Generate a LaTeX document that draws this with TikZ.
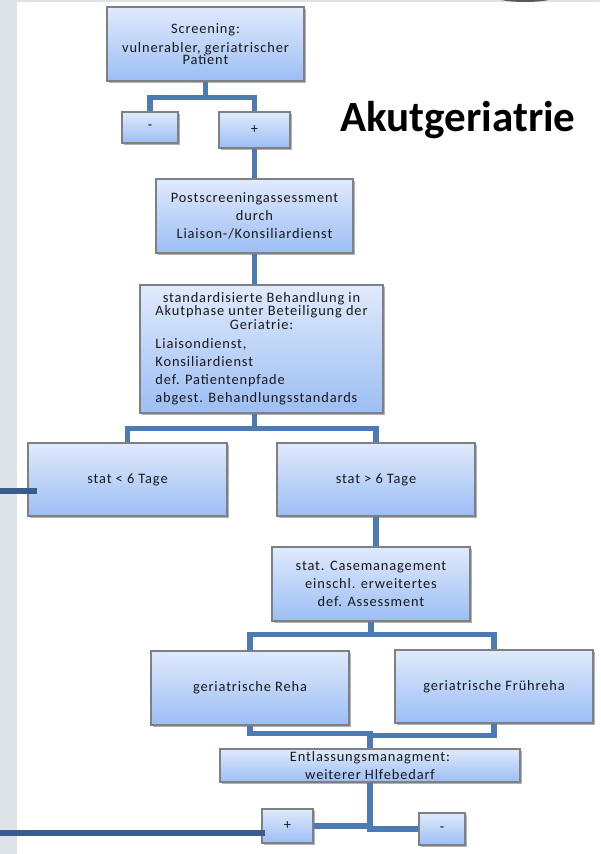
\documentclass[tikz,border=0pt]{standalone}
\usepackage{fontspec}
\setmainfont{Carlito}
\newfontfamily\boxfont[LetterSpace=6]{Carlito}
\usetikzlibrary{shadows}
\definecolor{linkblue}{RGB}{76,122,178}
\definecolor{exitblue}{RGB}{56,92,142}
\definecolor{boxtop}{RGB}{224,234,252}
\definecolor{boxbot}{RGB}{156,190,244}
\definecolor{boxline}{RGB}{125,128,132}
\definecolor{sidegray}{RGB}{222,227,232}
\tikzset{
  box/.style={draw=boxline, line width=0.8pt, top color=boxtop, bottom color=boxbot,
    drop shadow={shadow xshift=1.3pt, shadow yshift=-1.3pt, opacity=0.3, fill=black},
    align=center, text=black!90, inner sep=1pt,
    font=\boxfont\fontsize{8.2}{10.3}\selectfont},
  size/.style 2 args={minimum width=#1*0.02cm, minimum height=#2*0.02cm},
  link/.style={draw=linkblue, line width=2.9pt},
  exit/.style={draw=exitblue, line width=3.4pt},
}

\begin{document}
\begin{tikzpicture}[x=0.02cm, y=-0.02cm]
\useasboundingbox (0,0) rectangle (600,854);
\clip (0,0) rectangle (600,854);
% background
\fill[sidegray] (0,0) rectangle (17,854);
\fill[sidegray] (0,0) rectangle (600,2);
\fill[black!65] (525,-4) ellipse [x radius=32, y radius=6];

\node[font=\bfseries\fontsize{24.5}{28}\selectfont] (title) at (458,120) {Akutgeriatrie};

% boxes
\node[box, size={197}{74}] (scr) at (205.5,44) {Screening:\\[0.5pt] vulnerabler, geriatrischer\\[-3.5pt] Patient};
\node[box, size={56}{31}] (minus1) at (150,127.5) {-};
\node[box, size={71}{36}] (plus1) at (254.5,130) {+};
\node[box, size={197}{74}] (post) at (254.5,216) {Postscreeningassessment\\ durch\\ Liaison-/Konsiliardienst};
\node[box, size={243}{128}] (std) at (261.5,349) {%
  \begin{tabular}{@{}l@{}}
  \multicolumn{1}{@{}c@{}}{standardisierte Behandlung in}\\[-2.5pt]
  \multicolumn{1}{@{}c@{}}{Akutphase unter Beteiligung der}\\[-2.5pt]
  \multicolumn{1}{@{}c@{}}{Geriatrie:}\\[0.5pt]
  Liaisondienst,\\
  Konsiliardienst\\
  def. Patientenpfade\\
  abgest. Behandlungsstandards
  \end{tabular}};
\node[box, size={199}{73}] (lt6) at (127.5,479.5) {stat < 6 Tage};
\node[box, size={198}{73}] (gt6) at (376,479.5) {stat > 6 Tage};
\node[box, size={198}{74}] (case) at (371,584) {stat. Casemanagement\\ einschl. erweitertes\\ def. Assessment};
\node[box, size={198}{74}] (reha) at (250,688) {geriatrische Reha};
\node[box, size={198}{73}] (frueh) at (494,686.5) {geriatrische Frühreha};
\node[box, size={300}{33}] (entl) at (370,765.5) {Entlassungsmanagment:\\ weiterer Hlfebedarf};
\node[box, size={51}{34}] (plus2) at (287.5,826) {+};
\node[box, size={46}{32}] (minus2) at (442,829) {-};

% connectors
\draw[link] (scr.south) -- ++(0,16) -| (minus1.north);
\draw[link] (scr.south) -- ++(0,16) -| (plus1.north);
\draw[link] (plus1.south) -- (post.north);
\draw[link] (post.south) -- (post.south |- std.north);
\draw[link] (post.south |- std.south) -- ++(0,15) -| (lt6.north);
\draw[link] (post.south |- std.south) -- ++(0,15) -| (gt6.north);
\draw[link] (gt6.south) -- (gt6.south |- case.north);
\draw[link] (case.south) -- ++(0,13) -| (reha.north);
\draw[link] (case.south) -- ++(0,13) -| (frueh.north);
\draw[link] (reha.south) -- ++(0,8) -| (entl.north);
\draw[link] (frueh.south) -- ++(0,12) -| (entl.north);
\draw[link] (entl.south) |- (plus2.east);
\draw[link] (entl.south) |- (minus2.west);

% exits to the left
\coordinate (out1) at (0,491);
\coordinate (out2) at (0,833);
\draw[exit] (out1) -- ([xshift=0.2cm]out1 -| lt6.west);
\draw[exit] (out2) -- ([xshift=0.08cm]out2 -| plus2.west);
\end{tikzpicture}
\end{document}
